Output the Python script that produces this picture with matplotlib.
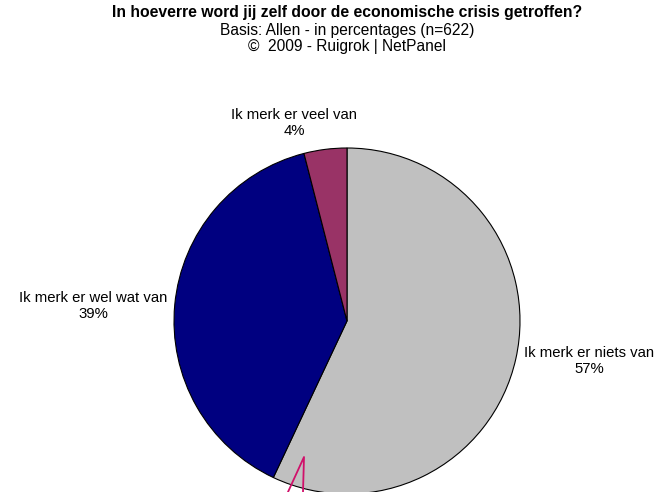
import matplotlib
matplotlib.use("Agg")
import matplotlib.pyplot as plt
from matplotlib.lines import Line2D

plt.rcParams['font.family'] = ['Liberation Sans', 'DejaVu Sans']

labels = ['Ik merk er niets van', 'Ik merk er wel wat van', 'Ik merk er veel van']
values = [57, 39, 4]
colors = ['#C0C0C0', '#000080', '#993366']

W, H = 660, 492
fig = plt.figure(figsize=(W / 100, H / 100), dpi=100)

# pie axes placed in pixel terms: centre (347,321), radius 173
cx, cy, r = 347, 321, 173
ax = fig.add_axes([(cx - r) / W, (H - cy - r) / H, 2 * r / W, 2 * r / H])
ax.pie(values, colors=colors, startangle=90, counterclock=False, radius=1,
       wedgeprops=dict(edgecolor='black', linewidth=0.8))
ax.set_xlim(-1, 1)
ax.set_ylim(-1, 1)
ax.set_aspect('equal')
ax.axis('off')

def px(x, y):
    return x / W, 1 - y / H

fig.text(*px(347, 13), 'In hoeverre word jij zelf door de economische crisis getroffen?',
         ha='center', va='center', fontsize=11.3, fontweight='bold')
fig.text(*px(347, 30), 'Basis: Allen - in percentages (n=622)',
         ha='center', va='center', fontsize=11.2)
fig.text(*px(347, 47), '\u00a9  2009 - Ruigrok | NetPanel',
         ha='center', va='center', fontsize=11.2)

label_pos = [(589, 361), (93, 306), (294, 123)]
for (x, y), lab, v in zip(label_pos, labels, values):
    fig.text(*px(x, y), f'{lab}\n{v}%', ha='center', va='center',
             fontsize=10.7, linespacing=1.2)

# stray leader lines at the bottom
lx = [288, 304, 303]
ly = [492, 457, 492]
fig.add_artist(Line2D([a / W for a in lx], [1 - b / H for b in ly],
                      transform=fig.transFigure, color='#D0106A', linewidth=1.3))

fig.savefig('out.png', dpi=100)
